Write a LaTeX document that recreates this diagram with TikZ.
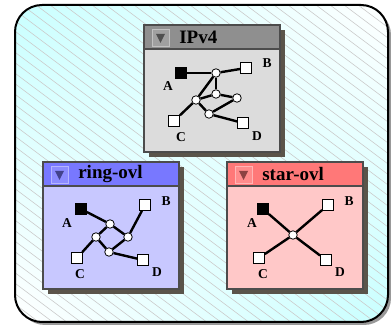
\documentclass[tikz,border=0pt]{standalone}
\usepackage{fontspec}
\setmainfont{Liberation Serif}
\usepackage{tikz}
\usetikzlibrary{arrows,shadings}
\definecolor{ipbar}{HTML}{8F8F8F}
\definecolor{ipbody}{HTML}{DCDCDC}
\definecolor{ringbar}{HTML}{7878FF}
\definecolor{ringbody}{HTML}{C8C8FF}
\definecolor{starbar}{HTML}{FF7878}
\definecolor{starbody}{HTML}{FFC8C8}
\definecolor{winshadow}{HTML}{5A544A}
\definecolor{bgcyan}{HTML}{C8FFFF}

\begin{document}
\begin{tikzpicture}[x=1pt,y=-1pt,semithick]
		\tikzstyle{host}=[rectangle,draw=black,fill=white,line width=0.8pt,minimum size=11pt,inner sep=0pt]
		\tikzstyle{src}=[host,fill=black]
		\tikzstyle{router}=[circle,draw=black,fill=white,line width=0.8pt,minimum size=8.5pt,inner sep=0pt]
		\tikzstyle{lbl}=[font=\fontsize{13.5}{13.5}\selectfont\bfseries,inner sep=0pt]
		\tikzstyle{title}=[font=\fontsize{19}{19}\selectfont\bfseries,anchor=west,inner sep=0pt]
		\tikzstyle{link}=[line width=2.4pt]
		\tikzstyle{frame}=[draw=black!70,line width=1.2pt]
		
		\useasboundingbox (0,0) rectangle (391,328);
		
		% background panel
		\fill[black!40,rounded corners=27pt] (18,8) rectangle (391,325);
		\shade[rounded corners=27pt,upper left=bgcyan,upper right=white,
			lower left=white,lower right=bgcyan] (15,5) rectangle (388,322);
		\begin{scope}
			\clip[rounded corners=27pt] (15,5) rectangle (388,322);
			\foreach \x in {-440,-426,...,391}
				\draw[black!20,line width=0.6pt] (\x,5) -- ++(440,330);
		\end{scope}
		\draw[rounded corners=27pt,line width=2pt] (15,5) rectangle (388,322);
		
		% windows
		\foreach \wx/\wy/\bar/\body/\id/\name in {144/25/ipbar/ipbody/ip/IPv4,
				43/162/ringbar/ringbody/ring/ring-ovl,227/162/starbar/starbody/star/star-ovl}{
			\fill[winshadow] (\wx+5,\wy+5) rectangle (\wx+141,\wy+132);
			\filldraw[frame,fill=\body] (\wx,\wy) rectangle (\wx+136,\wy+127);
			\filldraw[frame,fill=\bar] (\wx,\wy) rectangle (\wx+136,\wy+24);
			\filldraw[draw=\bar!55!white,fill=\bar!85!white,line width=0.8pt]
				(\wx+8,\wy+4) rectangle ++(17,17);
			\fill[\bar!55!black] (\wx+12,\wy+9) -- (\wx+21,\wy+9) -- (\wx+16.5,\wy+18) -- cycle;
			\node[title] (t\id) at (\wx+35,\wy+12.5) {\name};
		}
		
		% IPv4
		\node[router] (ip1) at (216,73) {};
		\node[router] (ip2) at (216,94) {};
		\node[router] (ip3) at (237,98) {};
		\node[router] (ip4) at (196,100) {};
		\node[router] (ip5) at (209,114) {};
		\node[src] (ipA) at (181,73) {};
		\node[host] (ipB) at (246,68) {};
		\node[host] (ipC) at (174,121) {};
		\node[host] (ipD) at (243,123) {};
		\node[lbl] (ipLA) at (168,86) {A};
		\node[lbl] (ipLB) at (267,63) {B};
		\node[lbl] (ipLC) at (181,137) {C};
		\node[lbl] (ipLD) at (257,136) {D};
		\path[link]
		(ipA) edge (ip1)
		(ip1) edge (ipB)
			edge (ip2)
			edge (ip4)
		(ip4) edge (ip2)
			edge (ip5)
			edge (ipC)
		(ip2) edge (ip3)
		(ip5) edge (ip3)
			edge (ipD);
		
		% ring-ovl
		\node[router] (ring1) at (110,224) {};
		\node[router] (ring2) at (128,237) {};
		\node[router] (ring3) at (96,237) {};
		\node[router] (ring4) at (109,252) {};
		\node[src] (ringA) at (81,209) {};
		\node[host] (ringB) at (145,205) {};
		\node[host] (ringC) at (77,258) {};
		\node[host] (ringD) at (143,260) {};
		\node[lbl] (ringLA) at (67,223) {A};
		\node[lbl] (ringLB) at (166,201) {B};
		\node[lbl] (ringLC) at (80,274) {C};
		\node[lbl] (ringLD) at (157,272) {D};
		\path[link]
		(ringA) edge (ring1)
		(ring1) edge (ring2)
			edge (ring3)
		(ring2) edge (ringB)
		(ring3) edge (ring4)
			edge (ringC)
		(ring4) edge (ring2)
			edge (ringD);
		
		% star-ovl
		\node[router] (star0) at (293,235) {};
		\node[src] (starA) at (263,209) {};
		\node[host] (starB) at (328,205) {};
		\node[host] (starC) at (259,258) {};
		\node[host] (starD) at (326,260) {};
		\node[lbl] (starLA) at (252,223) {A};
		\node[lbl] (starLB) at (349,201) {B};
		\node[lbl] (starLC) at (263,274) {C};
		\node[lbl] (starLD) at (340,272) {D};
		\path[link]
		(star0) edge (starA)
			edge (starB)
			edge (starC)
			edge (starD);
\end{tikzpicture}
\end{document}
